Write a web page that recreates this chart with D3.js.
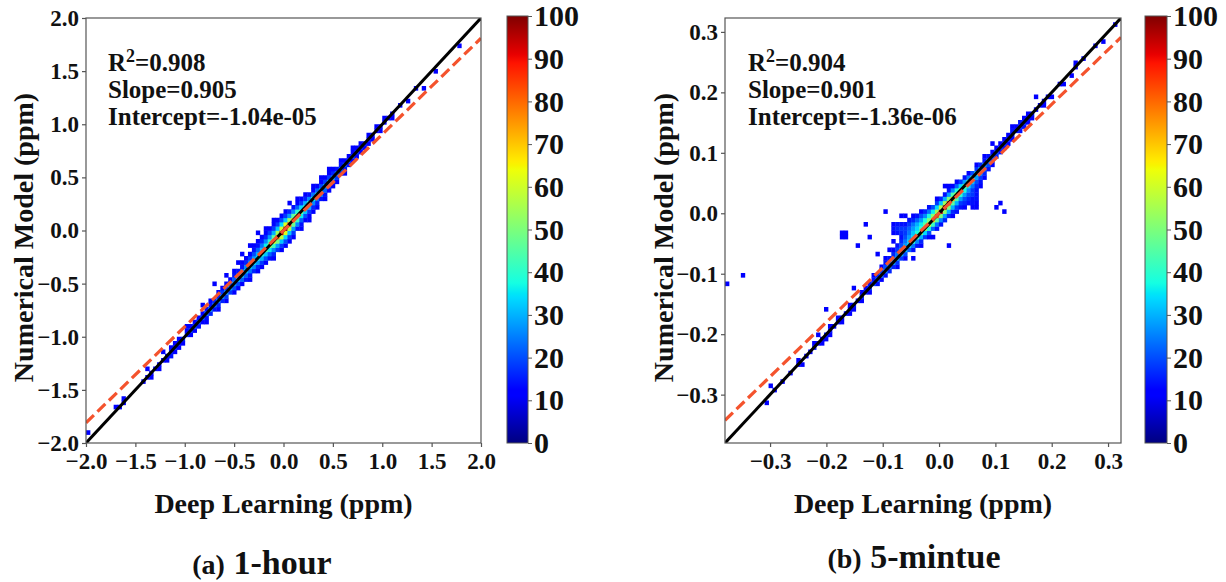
<!DOCTYPE html>
<html>
<head>
<meta charset="utf-8">
<script src="https://cdn.jsdelivr.net/npm/d3@7"></script>
<style>
body { margin: 0; background: #fff; }
text { font-family: "Liberation Serif", "Times New Roman", serif; font-weight: bold; fill: #111; }
</style>
</head>
<body>
<script>
// tick values
const leftTicks = [-2.0, -1.5, -1.0, -0.5, 0.0, 0.5, 1.0, 1.5, 2.0]
const rightTicks = [-0.3, -0.2, -0.1, 0.0, 0.1, 0.2, 0.3]
const cbarTicks = [0, 10, 20, 30, 40, 50, 60, 70, 80, 90, 100]

// axis ranges (same for x and y), 100 bins each way
const leftRange = [-2, 2]
const rightRange = [-0.38, 0.323]
const nBins = 100

// fit results printed in the plots
const leftFit = [0.908, 0.905, -1.04e-05]
const rightFit = [0.904, 0.901, -1.36e-06]
const leftFitText = ['0.908', '0.905', '-1.04e-05']
const rightFitText = ['0.904', '0.901', '-1.36e-06']

// jet colormap stops
const jetPos = [0, 0.11, 0.125, 0.34, 0.35, 0.375, 0.64, 0.65, 0.66, 0.89, 0.91, 1]
const jetCol = ['#000080', '#0000ff', '#0000ff', '#00dbff', '#00e6f7', '#15ffe2',
                '#efff08', '#f7f500', '#ffec00', '#ff1300', '#e80000', '#800000']

// histogram cells, per x bin: [xBin, [[offset from diagonal in bins, count], ...]]
const leftCols = [
 [0, [[2,12]]],
 [7, [[1,12]]],
 [8, [[0,12]]],
 [9, [[0,12],[1,12]]],
 [14, [[0,12]]],
 [15, [[0,12],[2,12]]],
 [16, [[-1,12],[0,12]]],
 [17, [[0,12]]],
 [18, [[-1,12],[0,12]]],
 [19, [[0,12],[2,12]]],
 [20, [[-1,12],[0,14]]],
 [21, [[-1,14],[0,16],[1,12]]],
 [22, [[-1,12],[0,16],[1,12]]],
 [23, [[-1,12],[0,14],[1,12]]],
 [24, [[-1,12],[0,16]]],
 [25, [[0,16],[1,12],[2,12]]],
 [26, [[-1,12],[0,18],[1,12]]],
 [27, [[-1,12],[0,20],[1,12]]],
 [28, [[-1,14],[0,20],[1,12]]],
 [29, [[-1,12],[0,22],[1,12],[3,12]]],
 [30, [[-2,12],[-1,14],[0,24],[1,14]]],
 [31, [[-1,16],[0,26],[1,14],[2,12]]],
 [32, [[-1,14],[0,24],[1,16],[5,12]]],
 [33, [[-2,12],[-1,16],[0,26],[1,16],[2,12]]],
 [34, [[-1,16],[0,26],[1,18],[2,12]]],
 [35, [[-2,12],[-1,18],[0,28],[1,18],[2,12],[4,12]]],
 [36, [[-1,18],[0,28],[1,20],[2,12]]],
 [37, [[-2,12],[-1,20],[0,28],[1,22],[2,14],[3,12]]],
 [38, [[-2,12],[-1,20],[0,30],[1,22],[2,14],[4,12]]],
 [39, [[-2,12],[-1,22],[0,30],[1,24],[2,14],[3,12],[5,12]]],
 [40, [[-2,14],[-1,22],[0,32],[1,26],[2,16],[3,12]]],
 [41, [[-3,12],[-2,14],[-1,24],[0,32],[1,26],[2,18],[3,12],[5,12]]],
 [42, [[-2,16],[-1,26],[0,34],[1,28],[2,20],[3,14],[4,12]]],
 [43, [[-3,12],[-2,16],[-1,28],[0,36],[1,30],[2,22],[3,14],[4,12],[6,12]]],
 [44, [[-3,12],[-2,18],[-1,30],[0,40],[1,32],[2,24],[3,16],[4,12]]],
 [45, [[-3,12],[-2,20],[-1,32],[0,46],[1,36],[2,26],[3,16],[4,12],[5,12]]],
 [46, [[-3,14],[-2,22],[-1,36],[0,54],[1,40],[2,28],[3,18],[4,12]]],
 [47, [[-4,12],[-3,16],[-2,26],[-1,42],[0,64],[1,46],[2,30],[3,18],[4,12],[5,12]]],
 [48, [[-3,18],[-2,28],[-1,50],[0,78],[1,54],[2,32],[3,18],[4,12]]],
 [49, [[-4,12],[-3,18],[-2,32],[-1,58],[0,95],[1,60],[2,34],[3,20],[4,12]]],
 [50, [[-4,12],[-3,20],[-2,34],[-1,62],[0,100],[1,62],[2,32],[3,18],[4,12]]],
 [51, [[-4,12],[-3,18],[-2,32],[-1,56],[0,86],[1,54],[2,28],[3,16],[5,12]]],
 [52, [[-4,12],[-3,18],[-2,28],[-1,48],[0,70],[1,46],[2,26],[3,14]]],
 [53, [[-3,14],[-2,26],[-1,42],[0,58],[1,40],[2,22],[3,12],[4,12]]],
 [54, [[-4,12],[-3,14],[-2,22],[-1,36],[0,48],[1,34],[2,18],[3,12]]],
 [55, [[-3,12],[-2,20],[-1,32],[0,42],[1,30],[2,16],[3,12]]],
 [56, [[-4,12],[-3,12],[-2,18],[-1,30],[0,38],[1,26],[2,14]]],
 [57, [[-3,12],[-2,16],[-1,26],[0,36],[1,24],[2,12],[3,12]]],
 [58, [[-3,12],[-2,16],[-1,24],[0,34],[1,22],[2,12]]],
 [59, [[-2,14],[-1,24],[0,32],[1,20],[2,12],[3,12]]],
 [60, [[-3,12],[-2,14],[-1,22],[0,30],[1,18],[2,12]]],
 [61, [[-2,12],[-1,20],[0,30],[1,18],[2,12],[3,12]]],
 [62, [[-2,12],[-1,18],[0,28],[1,16],[2,12]]],
 [63, [[-2,12],[-1,18],[0,26],[1,14]]],
 [64, [[-1,16],[0,24],[1,14],[2,12]]],
 [65, [[-2,12],[-1,14],[0,22],[1,12]]],
 [66, [[-1,14],[0,20],[1,12]]],
 [67, [[-1,12],[0,20],[1,12],[2,12]]],
 [68, [[-1,12],[0,18],[1,12]]],
 [69, [[-1,12],[0,16],[1,12]]],
 [70, [[-1,12],[0,14]]],
 [71, [[-1,12],[0,14],[1,12]]],
 [72, [[-1,12],[0,14]]],
 [73, [[0,12],[1,12]]],
 [74, [[-1,12],[0,12]]],
 [75, [[0,12],[1,12]]],
 [76, [[0,12]]],
 [77, [[-1,12],[0,12]]],
 [79, [[0,12]]],
 [81, [[-1,12]]],
 [83, [[0,12]]],
 [85, [[-2,12]]],
 [88, [[-1,12]]],
 [94, [[-1,12]]]
]

const rightCols = [
 [0, [[37,12]]],
 [4, [[35,12]]],
 [10, [[-1,12]]],
 [11, [[2,12]]],
 [12, [[0,12]]],
 [14, [[0,12]]],
 [16, [[0,12]]],
 [18, [[0,12],[1,12]]],
 [19, [[-1,12]]],
 [20, [[0,12]]],
 [21, [[0,12]]],
 [22, [[0,14],[1,12]]],
 [23, [[0,12],[2,12]]],
 [24, [[-1,12],[0,12]]],
 [25, [[-1,12],[0,16],[6,12]]],
 [26, [[-1,12],[0,14],[1,12]]],
 [27, [[0,12]]],
 [28, [[0,14],[1,12]]],
 [29, [[-1,12],[0,12],[19,12],[20,12]]],
 [30, [[0,14],[18,12],[19,12]]],
 [31, [[-1,12],[0,12],[1,12]]],
 [32, [[-1,12],[0,14],[4,12]]],
 [33, [[0,14],[13,12]]],
 [34, [[-1,12],[0,16],[1,12]]],
 [35, [[0,16],[1,12],[16,12]]],
 [36, [[-1,12],[0,18],[1,14],[12,12]]],
 [37, [[0,20],[1,14],[2,12]]],
 [38, [[-1,14],[0,22],[1,16],[6,12]]],
 [39, [[-1,12],[0,24],[1,18],[2,12]]],
 [40, [[-1,14],[0,26],[1,20],[2,14],[3,12],[14,12]]],
 [41, [[-1,16],[0,26],[1,22],[2,14],[4,12]]],
 [42, [[-1,16],[0,28],[1,22],[2,16],[3,12],[5,12],[7,12],[8,14],[9,12]]],
 [43, [[-2,12],[-1,18],[0,28],[1,24],[2,18],[3,14],[6,14],[7,16],[8,14]]],
 [44, [[-1,18],[0,30],[1,26],[2,20],[3,16],[4,14],[5,16],[6,18],[7,14],[9,12]]],
 [45, [[-2,12],[-1,20],[0,32],[1,28],[2,24],[3,20],[4,18],[5,18],[6,14],[8,12]]],
 [46, [[-1,22],[0,34],[1,32],[2,28],[3,24],[4,22],[5,18],[6,14]]],
 [47, [[-4,12],[-2,14],[-1,24],[0,38],[1,34],[2,32],[3,28],[4,24],[5,16],[6,12]]],
 [48, [[-2,14],[-1,26],[0,42],[1,38],[2,34],[3,30],[4,22],[5,14]]],
 [49, [[-3,12],[-2,16],[-1,30],[0,48],[1,42],[2,36],[3,28],[4,20],[5,12]]],
 [50, [[-2,18],[-1,34],[0,54],[1,46],[2,38],[3,26],[4,16]]],
 [51, [[-3,12],[-2,20],[-1,38],[0,60],[1,50],[2,38],[3,24],[4,14]]],
 [52, [[-4,12],[-2,22],[-1,42],[0,68],[1,52],[2,36],[3,20]]],
 [53, [[-3,14],[-2,24],[-1,46],[0,80],[1,54],[2,34],[3,18],[4,12]]],
 [54, [[-3,14],[-2,26],[-1,50],[0,95],[1,56],[2,32],[3,16]]],
 [55, [[-3,16],[-2,28],[-1,52],[0,100],[1,54],[2,30],[3,14],[5,12]]],
 [56, [[-10,12],[-3,16],[-2,30],[-1,50],[0,86],[1,50],[2,28],[3,14],[4,12]]],
 [57, [[-4,12],[-3,16],[-2,30],[-1,46],[0,72],[1,44],[2,26],[3,12]]],
 [58, [[-4,14],[-3,18],[-2,30],[-1,44],[0,62],[1,38],[2,22],[3,12]]],
 [59, [[-4,14],[-3,18],[-2,28],[-1,40],[0,54],[1,34],[2,18]]],
 [60, [[-5,12],[-4,16],[-3,20],[-2,28],[-1,38],[0,48],[1,28],[2,14]]],
 [61, [[-5,14],[-4,16],[-3,20],[-2,26],[-1,34],[0,44],[1,24],[2,12]]],
 [62, [[-7,12],[-6,14],[-5,14],[-4,18],[-3,18],[-2,24],[-1,32],[0,40],[1,20]]],
 [63, [[-8,12],[-7,12],[-6,14],[-5,14],[-4,14],[-3,16],[-2,20],[-1,28],[0,36],[1,18],[2,12]]],
 [64, [[-4,12],[-3,14],[-2,18],[-1,26],[0,32],[1,16]]],
 [65, [[-3,12],[-2,16],[-1,22],[0,28],[1,14],[2,12]]],
 [66, [[-2,14],[-1,20],[0,26],[1,14]]],
 [67, [[-2,12],[-1,18],[0,22],[1,12],[3,12]]],
 [68, [[-13,12],[-1,16],[0,20],[1,12]]],
 [69, [[-13,12],[-1,14],[0,18],[1,12]]],
 [70, [[-16,12],[-1,14],[0,16],[1,12]]],
 [71, [[-1,12],[0,16],[1,12]]],
 [72, [[-1,12],[0,14],[1,14],[2,12]]],
 [73, [[0,14],[1,12]]],
 [74, [[-1,14],[0,16],[1,14]]],
 [75, [[-1,14],[0,16],[1,12]]],
 [76, [[-1,12],[0,14],[1,12]]],
 [77, [[-1,12],[0,14]]],
 [78, [[0,12],[3,12]]],
 [79, [[0,12]]],
 [80, [[-1,12],[0,12]]],
 [81, [[0,12]]],
 [82, [[-1,12]]],
 [84, [[0,12]]],
 [85, [[-1,12]]],
 [87, [[-1,12]]],
 [88, [[0,12],[1,12]]],
 [90, [[0,12]]],
 [93, [[0,12]]],
 [95, [[-1,12]]],
 [98, [[0,12]]]
]

// page size
const width = 1226
const height = 582

const svg = d3.select('body').append('svg')
    .attr('width', width)
    .attr('height', height)

const jet = d3.scaleLinear()
    .domain(jetPos.map(p => p * 100))
    .range(jetCol)
    .clamp(true)

// gradient for the colorbars
const grad = svg.append('defs').append('linearGradient')
    .attr('id', 'jetGrad')
    .attr('x1', 0).attr('y1', 1).attr('x2', 0).attr('y2', 0)
grad.selectAll('stop')
    .data(jetPos)
    .enter()
    .append('stop')
    .attr('offset', d => d)
    .attr('stop-color', (d, i) => jetCol[i])

const fmt = d3.format('.1f')

const drawPanel = (p) => {
    const g = svg.append('g')

    const x = d3.scaleLinear().domain(p.range).range([p.left, p.right])
    const y = d3.scaleLinear().domain(p.range).range([p.bottom, p.top])
    const bw = (p.range[1] - p.range[0]) / nBins

    // flatten the columns into cells
    const cells = []
    p.cols.forEach(col => {
        col[1].forEach(pair => {
            cells.push({ ix: col[0], iy: col[0] + pair[0], c: pair[1] })
        })
    })

    g.append('clipPath').attr('id', 'clip' + p.id)
        .append('rect')
        .attr('x', p.left).attr('y', p.top)
        .attr('width', p.right - p.left).attr('height', p.bottom - p.top)

    const area = g.append('g').attr('clip-path', 'url(#clip' + p.id + ')')

    area.selectAll('rect.cell')
        .data(cells)
        .enter()
        .append('rect')
        .attr('class', 'cell')
        .attr('x', d => x(p.range[0] + d.ix * bw))
        .attr('y', d => y(p.range[0] + (d.iy + 1) * bw))
        .attr('width', x(p.range[0] + bw) - x(p.range[0]) + 0.4)
        .attr('height', y(p.range[0]) - y(p.range[0] + bw) + 0.4)
        .attr('fill', d => jet(d.c))

    // 1:1 line
    area.append('line')
        .attr('x1', x(p.range[0])).attr('y1', y(p.range[0]))
        .attr('x2', x(p.range[1])).attr('y2', y(p.range[1]))
        .attr('stroke', '#000')
        .attr('stroke-width', 3)

    // regression line
    const slope = p.fit[1], icpt = p.fit[2]
    area.append('line')
        .attr('x1', x(p.range[0])).attr('y1', y(slope * p.range[0] + icpt))
        .attr('x2', x(p.range[1])).attr('y2', y(slope * p.range[1] + icpt))
        .attr('stroke', '#f4532d')
        .attr('stroke-width', 3.2)
        .attr('stroke-dasharray', '11,5')

    // frame
    g.append('rect')
        .attr('x', p.left).attr('y', p.top)
        .attr('width', p.right - p.left).attr('height', p.bottom - p.top)
        .attr('fill', 'none')
        .attr('stroke', '#555')
        .attr('stroke-width', 1.2)

    // axes
    const xAxis = g.append('g')
        .attr('transform', 'translate(0,' + p.bottom + ')')
        .call(d3.axisBottom(x).tickValues(p.ticks).tickFormat(fmt).tickSize(4).tickPadding(6))
    const yAxis = g.append('g')
        .attr('transform', 'translate(' + p.left + ',0)')
        .call(d3.axisLeft(y).tickValues(p.ticks).tickFormat(fmt).tickSize(4).tickPadding(3))
    ;[xAxis, yAxis].forEach(a => {
        a.select('.domain').remove()
        a.selectAll('line').attr('stroke', '#555').attr('stroke-width', 1.2)
        a.selectAll('text')
            .attr('fill', '#111')
            .style('font-family', '"Liberation Serif", serif')
            .style('font-weight', 'bold')
            .style('font-size', '23px')
    })

    // stats text
    const stats = g.append('text')
        .attr('x', p.textX).attr('y', 71)
        .style('font-size', '25px')
    stats.append('tspan').text('R')
    stats.append('tspan').text('2').attr('dy', -9).style('font-size', '18px')
    stats.append('tspan').text('=' + p.fitText[0]).attr('dy', 9)
    g.append('text').attr('x', p.textX).attr('y', 98)
        .style('font-size', '25px').text('Slope=' + p.fitText[1])
    g.append('text').attr('x', p.textX).attr('y', 125)
        .style('font-size', '25px').text('Intercept=' + p.fitText[2])

    // axis labels
    g.append('text')
        .attr('x', (p.left + p.right) / 2).attr('y', 513)
        .attr('text-anchor', 'middle')
        .style('font-size', '28px')
        .text('Deep Learning (ppm)')
    g.append('text')
        .attr('transform', 'translate(' + p.yLabelX + ',' + ((p.top + p.bottom) / 2 + 7) + ') rotate(-90)')
        .attr('text-anchor', 'middle')
        .style('font-size', '28px')
        .text('Numerical Model (ppm)')

    // colorbar
    const cb = d3.scaleLinear().domain([0, 100]).range([p.cbBottom, p.cbTop])
    g.append('rect')
        .attr('x', p.cbLeft).attr('y', p.cbTop)
        .attr('width', p.cbRight - p.cbLeft).attr('height', p.cbBottom - p.cbTop)
        .attr('fill', 'url(#jetGrad)')
        .attr('stroke', '#555')
        .attr('stroke-width', 1)
    const cbAxis = g.append('g')
        .attr('transform', 'translate(' + p.cbRight + ',0)')
        .call(d3.axisRight(cb).tickValues(cbarTicks).tickSize(4).tickPadding(2))
    cbAxis.select('.domain').remove()
    cbAxis.selectAll('line').attr('stroke', '#555')
    cbAxis.selectAll('text')
        .attr('fill', '#111')
        .style('font-family', '"Liberation Serif", serif')
        .style('font-weight', 'bold')
        .style('font-size', '30px')

    // panel title
    const t = g.append('text')
        .attr('x', p.titleX).attr('y', p.titleY)
        .attr('text-anchor', 'middle')
    t.append('tspan').text(p.titleA).style('font-size', '28px')
    t.append('tspan').text(' ' + p.titleB).style('font-size', '34px')
}

drawPanel({
    id: 'a', cols: leftCols, range: leftRange, ticks: leftTicks,
    fit: leftFit, fitText: leftFitText,
    left: 86, right: 481, top: 18, bottom: 443,
    cbLeft: 507, cbRight: 528, cbTop: 16, cbBottom: 443,
    textX: 108, yLabelX: 33,
    titleX: 262, titleY: 574, titleA: '(a)', titleB: '1-hour'
})

drawPanel({
    id: 'b', cols: rightCols, range: rightRange, ticks: rightTicks,
    fit: rightFit, fitText: rightFitText,
    left: 725, right: 1121, top: 18, bottom: 443,
    cbLeft: 1145, cbRight: 1167, cbTop: 16, cbBottom: 443,
    textX: 748, yLabelX: 673,
    titleX: 914, titleY: 568, titleA: '(b)', titleB: '5-mintue'
})
</script>
</body>
</html>
